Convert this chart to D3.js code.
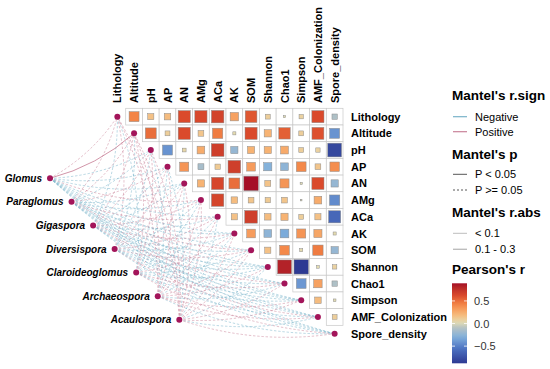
<!DOCTYPE html>
<html>
<head>
<meta charset="utf-8">
<script src="https://cdn.jsdelivr.net/npm/d3@7"></script>
<style>
  body { margin: 0; background: #fff; }
  text { font-family: "Liberation Sans", Arial, sans-serif; }
</style>
</head>
<body>
<script>
var width = 550
var height = 369

var envVars = ["Lithology", "Altitude", "pH", "AP", "AN", "AMg", "ACa", "AK", "SOM",
               "Shannon", "Chao1", "Simpson", "AMF_Colonization", "Spore_density"]

var species = ["Glomus", "Paraglomus", "Gigaspora", "Diversispora",
               "Claroideoglomus", "Archaeospora", "Acaulospora"]

// Pearson's r, upper triangle: row i holds columns i+1 .. 13
var corRows = [
  [0.42, 0.16, 0.18, 0.62, 0.63, 0.66, 0.30, 0.58, 0.10, 0.02, 0.08, 0.62, -0.12],
  [0.50, 0.10, 0.62, 0.14, 0.45, 0.04, 0.62, 0.22, 0.55, 0.10, 0.60, -0.42],
  [-0.42, 0.06, 0.25, 0.68, -0.22, 0.22, 0.22, 0.26, 0.10, 0.08, -0.80],
  [0.35, -0.15, 0.12, 0.68, 0.32, -0.28, -0.25, 0.40, 0.14, 0.38],
  [0.22, 0.64, 0.50, 0.89, 0.15, 0.35, 0.02, 0.62, -0.22],
  [0.65, 0.18, 0.14, 0.12, 0.14, 0.01, 0.25, -0.45],
  [0.16, 0.68, 0.18, 0.22, 0.10, 0.16, -0.62],
  [0.32, -0.25, -0.32, 0.35, 0.28, 0.04],
  [0.16, 0.40, 0.04, 0.45, -0.22],
  [0.82, -0.88, 0.03, 0.08],
  [-0.40, 0.30, -0.12],
  [0.18, 0.03],
  [0.10]
]

// Mantel's r, species x env
var mantelR = [
  [0.08, 0.22, -0.05, -0.06, -0.04, 0.03, -0.07, -0.05, -0.03, -0.06, -0.04, -0.02, -0.05, -0.03],
  [0.05, 0.04, -0.06, 0.03, -0.05, -0.04, 0.05, -0.06, 0.04, -0.05, -0.03, -0.04, -0.06, -0.02],
  [-0.04, 0.06, 0.05, -0.07, -0.03, 0.04, -0.05, 0.03, -0.06, -0.04, 0.05, -0.03, -0.04, -0.05],
  [0.06, -0.03, -0.04, 0.05, 0.04, -0.06, 0.03, -0.04, 0.05, -0.07, -0.02, -0.05, 0.03, -0.04],
  [-0.05, 0.04, 0.06, -0.03, 0.05, -0.04, -0.06, 0.04, -0.03, -0.05, 0.06, -0.04, -0.03, 0.05],
  [0.07, 0.05, -0.04, 0.06, -0.05, 0.04, 0.05, -0.03, 0.06, 0.04, -0.05, 0.03, 0.05, -0.04],
  [0.06, 0.07, 0.05, -0.04, 0.06, 0.05, -0.03, 0.06, 0.04, -0.05, 0.04, 0.06, -0.03, 0.05]
]

// Mantel's p, species x env
var mantelP = [
  [0.21, 0.01, 0.62, 0.55, 0.71, 0.80, 0.43, 0.66, 0.74, 0.52, 0.69, 0.88, 0.60, 0.77],
  [0.48, 0.57, 0.51, 0.73, 0.58, 0.64, 0.55, 0.47, 0.66, 0.59, 0.75, 0.62, 0.50, 0.84],
  [0.63, 0.45, 0.56, 0.41, 0.78, 0.66, 0.54, 0.72, 0.49, 0.65, 0.57, 0.74, 0.68, 0.55],
  [0.44, 0.76, 0.67, 0.53, 0.61, 0.47, 0.72, 0.64, 0.56, 0.40, 0.85, 0.58, 0.73, 0.63],
  [0.52, 0.63, 0.46, 0.74, 0.55, 0.66, 0.48, 0.62, 0.77, 0.54, 0.47, 0.65, 0.71, 0.56],
  [0.39, 0.51, 0.65, 0.46, 0.57, 0.64, 0.53, 0.76, 0.45, 0.61, 0.55, 0.72, 0.52, 0.67],
  [0.45, 0.41, 0.54, 0.66, 0.48, 0.53, 0.74, 0.47, 0.62, 0.56, 0.63, 0.49, 0.71, 0.54]
]

var colorDomain = [-0.88, 0.89]
var colorTicks = [0.5, 0, -0.5]

var svg = d3.select("body").append("svg")
            .attr("width", width)
            .attr("height", height)

// grid scales
var x = d3.scaleBand().domain(envVars).range([109, 343])
var y = d3.scaleBand().domain(envVars).range([108.3, 342])
var bw = x.bandwidth()

var color = d3.scaleLinear()
              .domain([-0.88, -0.55, -0.3, -0.1, 0.03, 0.2, 0.42, 0.62, 0.89])
              .range(["#2d3a93", "#4d74c2", "#7fb0dc", "#b3c2c4", "#e4ddb2",
                      "#f7b878", "#f38446", "#da4a2c", "#a50f26"])
              .interpolate(d3.interpolateLab)

// species nodes
var sx = d3.scalePoint().domain(species).range([50, 179.3])
var sy = d3.scalePoint().domain(species).range([178.3, 319.7])

function envPos(i) {
  return [x(envVars[i]) + bw / 2, y(envVars[i]) + bw / 2]
}

// links
var links = []
species.forEach(function(s, si) {
  envVars.forEach(function(e, ei) {
    links.push({ s: si, e: ei, r: mantelR[si][ei], p: mantelP[si][ei] })
  })
})
links.sort(function(a, b) { return b.p - a.p })

function curve(d) {
  var x0 = sx(species[d.s]), y0 = sy(species[d.s])
  var end = envPos(d.e)
  var dx = end[0] - x0, dy = end[1] - y0
  var k = 0.12
  var cx = (x0 + end[0]) / 2 - dy * k
  var cy = (y0 + end[1]) / 2 + dx * k
  var p = d3.path()
  p.moveTo(x0, y0)
  p.quadraticCurveTo(cx, cy, end[0], end[1])
  return p.toString()
}

svg.append("g").selectAll("path")
   .data(links)
   .enter()
   .append("path")
   .attr("d", curve)
   .attr("fill", "none")
   .attr("stroke", function(d) { return d.r < 0 ? "#79b3c9" : "#c98299" })
   .attr("stroke-width", function(d) { return Math.abs(d.r) < 0.1 ? 0.6 : 1 })
   .attr("stroke-dasharray", function(d) { return d.p < 0.05 ? null : "2.4,1.8" })
   .attr("opacity", 0.85)

// correlation cells
var cells = []
corRows.forEach(function(row, i) {
  row.forEach(function(v, k) {
    cells.push({ i: i, j: i + 1 + k, r: v })
  })
})

var cg = svg.append("g")
cg.selectAll("rect.cell")
  .data(cells)
  .enter()
  .append("rect")
  .attr("class", "cell")
  .attr("x", function(d) { return x(envVars[d.j]) })
  .attr("y", function(d) { return y(envVars[d.i]) })
  .attr("width", bw)
  .attr("height", bw)
  .attr("fill", "#fff")
  .attr("stroke", "#c8c8c8")
  .attr("stroke-width", 0.7)

cg.selectAll("rect.sq")
  .data(cells)
  .enter()
  .append("rect")
  .attr("class", "sq")
  .attr("x", function(d) { var s = Math.sqrt(Math.abs(d.r)) * bw * 0.92; return x(envVars[d.j]) + (bw - s) / 2 })
  .attr("y", function(d) { var s = Math.sqrt(Math.abs(d.r)) * bw * 0.92; return y(envVars[d.i]) + (bw - s) / 2 })
  .attr("width", function(d) { return Math.sqrt(Math.abs(d.r)) * bw * 0.92 })
  .attr("height", function(d) { return Math.sqrt(Math.abs(d.r)) * bw * 0.92 })
  .attr("fill", function(d) { return color(d.r) })
  .attr("stroke", "#8c8c8c")
  .attr("stroke-width", 0.5)

// nodes
svg.append("g").selectAll("circle")
   .data(envVars)
   .enter()
   .append("circle")
   .attr("cx", function(d, i) { return envPos(i)[0] })
   .attr("cy", function(d, i) { return envPos(i)[1] })
   .attr("r", 3)
   .attr("fill", "#a3155a")

svg.append("g").selectAll("circle")
   .data(species)
   .enter()
   .append("circle")
   .attr("cx", function(d) { return sx(d) })
   .attr("cy", function(d) { return sy(d) })
   .attr("r", 3)
   .attr("fill", "#a3155a")

svg.append("g").selectAll("text")
   .data(species)
   .enter()
   .append("text")
   .attr("x", function(d) { return sx(d) - 8 })
   .attr("y", function(d) { return sy(d) + 3.5 })
   .attr("text-anchor", "end")
   .style("font-size", "10px")
   .style("font-weight", "bold")
   .style("font-style", "italic")
   .text(function(d) { return d })

// axis labels
svg.append("g").selectAll("text")
   .data(envVars)
   .enter()
   .append("text")
   .attr("transform", function(d) { return "translate(" + (x(d) + bw / 2 + 4) + ",103) rotate(-90)" })
   .style("font-size", "11px")
   .style("font-weight", "bold")
   .text(function(d) { return d })

svg.append("g").selectAll("text")
   .data(envVars)
   .enter()
   .append("text")
   .attr("x", 351)
   .attr("y", function(d) { return y(d) + bw / 2 + 4 })
   .style("font-size", "11px")
   .style("font-weight", "bold")
   .text(function(d) { return d })

// legends
var lg = svg.append("g")
function title(t, yy) {
  lg.append("text").attr("x", 452).attr("y", yy)
    .style("font-size", "13.5px").style("font-weight", "bold").text(t)
}
function key(t, yy, stroke, sw, dash) {
  lg.append("line").attr("x1", 453).attr("x2", 467).attr("y1", yy).attr("y2", yy)
    .attr("stroke", stroke).attr("stroke-width", sw).attr("stroke-dasharray", dash)
  lg.append("text").attr("x", 475).attr("y", yy + 4)
    .style("font-size", "11px").text(t)
}

title("Mantel's r.sign", 99.5)
key("Negative", 116.7, "#79b3c9", 1.2, null)
key("Positive", 131.7, "#c98299", 1.2, null)
title("Mantel's p", 158.5)
key("P < 0.05", 174.3, "#444", 0.9, null)
key("P >= 0.05", 190, "#444", 0.9, "2,2")
title("Mantel's r.abs", 217.3)
key("< 0.1", 233.3, "#bdbdbd", 1, null)
key("0.1 - 0.3", 249.3, "#bdbdbd", 1.4, null)
title("Pearson's r", 274)

var cb = d3.scaleLinear().domain(colorDomain).range([363.3, 283.3])
var grad = svg.append("defs").append("linearGradient")
              .attr("id", "cbar").attr("x1", 0).attr("x2", 0).attr("y1", 1).attr("y2", 0)
d3.range(0, 1.0001, 0.05).forEach(function(t) {
  var v = colorDomain[0] + t * (colorDomain[1] - colorDomain[0])
  grad.append("stop").attr("offset", t).attr("stop-color", color(v))
})
lg.append("rect").attr("x", 452).attr("y", cb.range()[1])
  .attr("width", 15).attr("height", cb.range()[0] - cb.range()[1])
  .attr("fill", "url(#cbar)")

var fmt = d3.format(".1f")
colorTicks.forEach(function(t) {
  lg.append("line").attr("x1", 452).attr("x2", 455).attr("y1", cb(t)).attr("y2", cb(t))
    .attr("stroke", "#fff").attr("stroke-width", 0.8)
  lg.append("line").attr("x1", 464).attr("x2", 467).attr("y1", cb(t)).attr("y2", cb(t))
    .attr("stroke", "#fff").attr("stroke-width", 0.8)
  lg.append("text").attr("x", 474).attr("y", cb(t) + 4)
    .style("font-size", "11px").attr("fill", "#333").text(fmt(t))
})
</script>
</body>
</html>
